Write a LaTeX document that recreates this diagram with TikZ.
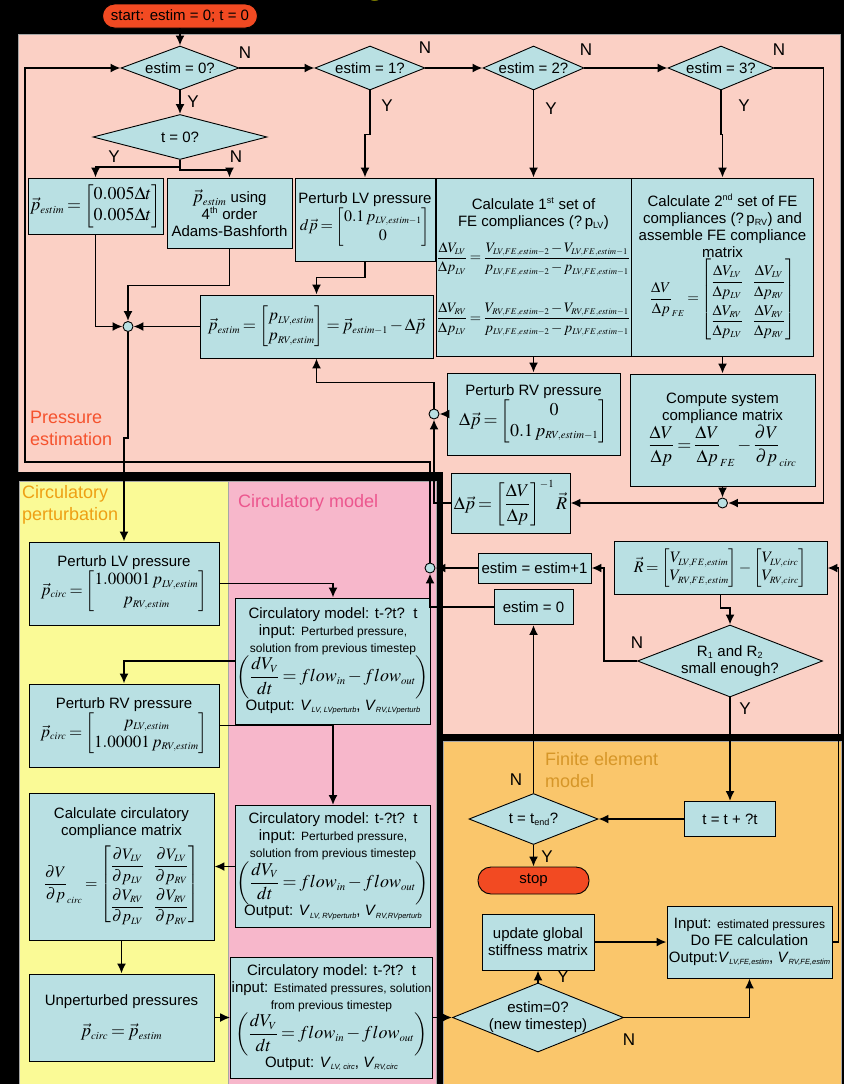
\documentclass[tikz,border=0pt]{standalone}
\usepackage{amsmath}
\usepackage{mathptmx}
\usepackage[no-math]{fontspec}
\setmainfont{Liberation Sans}
\usepackage{tikz}
\usetikzlibrary{arrows,arrows.meta,shapes}
\usetikzlibrary{positioning}
\renewcommand{\defaultscriptratio}{.6}
\thickmuskip=3mu plus 2mu
\medmuskip=2mu plus 1mu
\definecolor{boxblue}{RGB}{185,224,227}
\definecolor{termred}{RGB}{242,74,34}
\definecolor{pressbg}{RGB}{251,208,197}
\definecolor{pertbg}{RGB}{250,250,150}
\definecolor{circbg}{RGB}{247,183,203}
\definecolor{febg}{RGB}{250,198,107}
\definecolor{presstext}{RGB}{245,82,45}
\definecolor{perttext}{RGB}{238,160,20}
\definecolor{circtext}{RGB}{236,86,142}
\definecolor{fetext}{RGB}{214,150,40}
\definecolor{titleyellow}{RGB}{255,255,0}
\tikzstyle{box}=[rectangle,draw=black,line width=0.9pt,fill=boxblue,align=center,inner sep=1pt,font=\fontsize{15}{17}\selectfont]
\tikzstyle{decision}=[diamond,draw=black,line width=0.9pt,fill=boxblue,align=center,inner sep=0pt,aspect=2.5,font=\fontsize{15}{17}\selectfont]
\tikzstyle{terminal}=[rectangle,rounded corners=12pt,draw=black,line width=0.9pt,fill=termred,font=\fontsize{15}{17}\selectfont]
\tikzstyle{junction}=[circle,draw=black,line width=0.9pt,fill=boxblue,minimum size=10pt,inner sep=0pt]
\tikzstyle{edge} = [draw,line width=1.8pt,->]
\tikzstyle{yesno} = [font=\fontsize{17}{17}\selectfont]
\tikzstyle{region} = [align=left,anchor=west,inner sep=0pt,font=\fontsize{18}{22}\selectfont]
\newcommand{\eqsize}{\fontsize{18}{21}\selectfont}
\newcommand{\smalltext}{\fontsize{12}{14}\selectfont}
\newcommand{\osub}[1]{\raisebox{-2.5pt}{\fontsize{7.5}{8}\selectfont\itshape #1}}

\begin{document}
\begin{tikzpicture}[x=1pt,y=-1pt,>={Latex[length=10pt,width=9pt]}]

% coloured regions
\useasboundingbox (0,0) rectangle (844,1084);
\fill[black] (0,0) rectangle (844,1084);
\filldraw[fill=pressbg,draw=gray!70] (18,34) rectangle (840,734);
\fill[black] (14,472) rectangle (443,1084);
\fill[black] (443,734) rectangle (844,1084);
\filldraw[fill=pertbg,draw=gray!70] (19,481) rectangle (228,1090);
\filldraw[fill=circbg,draw=gray!70] (228,481) rectangle (436,1090);
\filldraw[fill=febg,draw=gray!70] (443,741) rectangle (841,1090);

\node[text=titleyellow,font=\bfseries\fontsize{40}{40}\selectfont,anchor=base,inner sep=0pt] (title) at (376,-7) {g};

\node[region,text=presstext] (lpress) at (30,428) {Pressure\\estimation};
\node[region,text=perttext] (lpert) at (22,505) {Circulatory\\perturbation};
\node[region,text=circtext] (lcirc) at (238,503) {Circulatory model};
\node[region,text=fetext] (lfe) at (545,770) {Finite element\\model};

%pressure estimation
\node[terminal,minimum width=155pt,minimum height=24pt] (start) at (180,16) {start: estim = 0; t = 0};

\foreach \pos/\name/\num/\dw in {{(180,68)/q0/0/118}, {(370,68)/q1/1/110}, {(533.5,68)/q2/2/101}, {(721,68)/q3/3/106}}
    \node[decision,minimum width=\dw pt,minimum height=44pt] (\name) at \pos {estim = \num?};

\node[decision,minimum width=174pt,minimum height=45pt] (qt) at (180,137) {t = 0?};

\node[box,minimum width=135pt,minimum height=56pt] (init) at (95.5,206)
    {{\fontsize{18}{21}\selectfont $\vec{p}_{estim}=\begin{bmatrix}0.005\Delta t\\ 0.005\Delta t\end{bmatrix}$}};
\node[box,minimum width=125pt,minimum height=70pt] (ab) at (229.5,213)
    {{\eqsize$\vec{p}_{estim}$} using\\4\textsuperscript{th} order\\Adams-Bashforth};
\node[box,minimum width=140pt,minimum height=83pt] (plv) at (365,219.5)
    {Perturb LV pressure\\{\fontsize{16}{19}\selectfont $d\vec{p}=\begin{bmatrix}0.1\,p_{LV,estim-1}\\ 0\end{bmatrix}$}};
\node[box,minimum width=192pt,minimum height=178pt] (fe1) at (533.5,267)
    {Calculate 1\textsuperscript{st} set of\\FE compliances (?\,p\textsubscript{LV})\\[12pt]
     {\fontsize{14.5}{17}\selectfont $\dfrac{\Delta V_{LV}}{\Delta p_{LV}}=\dfrac{V_{LV,FE,estim-2}-V_{LV,FE,estim-1}}{p_{LV,FE,estim-2}-p_{LV,FE,estim-1}}$}\\[26pt]
     {\fontsize{14.5}{17}\selectfont $\dfrac{\Delta V_{RV}}{\Delta p_{LV}}=\dfrac{V_{RV,FE,estim-2}-V_{RV,FE,estim-1}}{p_{LV,FE,estim-2}-p_{LV,FE,estim-1}}$}};
\node[box,minimum width=182pt,minimum height=178pt] (fe2) at (722.5,267)
    {Calculate 2\textsuperscript{nd} set of FE\\compliances (?\,p\textsubscript{RV}) and\\assemble FE compliance\\matrix\\[0pt]
     {\fontsize{15}{17}\selectfont\renewcommand{\arraystretch}{2.2}${\dfrac{\Delta V}{\Delta p}}_{FE}=\begin{bmatrix}\dfrac{\Delta V_{LV}}{\Delta p_{LV}} & \dfrac{\Delta V_{LV}}{\Delta p_{RV}}\\ \dfrac{\Delta V_{RV}}{\Delta p_{LV}} & \dfrac{\Delta V_{RV}}{\Delta p_{RV}}\end{bmatrix}$}};
\node[box,minimum width=233pt,minimum height=63pt] (pest) at (316.5,326.5)
    {{\fontsize{17}{20}\selectfont $\vec{p}_{estim}=\begin{bmatrix}p_{LV,estim}\\ p_{RV,estim}\end{bmatrix}=\vec{p}_{estim-1}-\Delta\vec{p}$}};
\node[box,minimum width=173pt,minimum height=82pt] (prv) at (533.5,414)
    {Perturb RV pressure\\{\eqsize $\Delta\vec{p}=\begin{bmatrix}0\\ 0.1\,p_{RV,estim-1}\end{bmatrix}$}};
\node[box,minimum width=185pt,minimum height=112pt] (sys) at (722.5,430)
    {Compute system\\compliance matrix\\
     {\eqsize $\dfrac{\Delta V}{\Delta p}={\dfrac{\Delta V}{\Delta p}}_{FE}-{\dfrac{\partial V}{\partial p}}_{circ}$}};
\node[box,minimum width=119pt,minimum height=60pt] (dp) at (510.5,503)
    {{\eqsize $\Delta\vec{p}=\begin{bmatrix}\dfrac{\Delta V}{\Delta p}\end{bmatrix}^{-1}\vec{R}$}};
\node[box,minimum width=113pt,minimum height=30pt] (inc) at (534.5,568) {estim = estim+1};
\node[box,minimum width=79pt,minimum height=35pt] (zero) at (533.5,607) {estim = 0};
\node[box,minimum width=213pt,minimum height=53pt] (res) at (720.5,568)
    {{\fontsize{16}{18}\selectfont $\vec{R}=\begin{bmatrix}V_{LV,FE,estim}\\ V_{RV,FE,estim}\end{bmatrix}-\begin{bmatrix}V_{LV,circ}\\ V_{RV,circ}\end{bmatrix}$}};
\node[decision,inner sep=-6pt,minimum width=185pt,minimum height=72pt] (conv) at (730,661)
    {R\textsubscript{1} and R\textsubscript{2}\\small enough?};

\foreach \pos/\name in {{(128,326.5)/j1}, {(434,414)/j2}, {(722.5,503)/j3}, {(430,568)/j4}}
    \node[junction] (\name) at \pos {};

%circulatory perturbation and model
\node[box,minimum width=190pt,minimum height=83pt] (cplv) at (124,583.5)
    {Perturb LV pressure\\{\fontsize{17}{20}\selectfont $\vec{p}_{circ}=\begin{bmatrix}1.00001\,p_{LV,estim}\\ p_{RV,estim}\end{bmatrix}$}};
\node[box,minimum width=190pt,minimum height=83pt] (cprv) at (124,725.5)
    {Perturb RV pressure\\{\fontsize{17}{20}\selectfont $\vec{p}_{circ}=\begin{bmatrix}p_{LV,estim}\\ 1.00001\,p_{RV,estim}\end{bmatrix}$}};
\node[box,minimum width=185pt,minimum height=147pt] (ccomp) at (121.5,866.5)
    {Calculate circulatory\\compliance matrix\\[4pt]
     {\fontsize{16}{18}\selectfont\renewcommand{\arraystretch}{2.1}${\dfrac{\partial V}{\partial p}}_{circ}=\begin{bmatrix}\dfrac{\partial V_{LV}}{\partial p_{LV}} & \dfrac{\partial V_{LV}}{\partial p_{RV}}\\ \dfrac{\partial V_{RV}}{\partial p_{LV}} & \dfrac{\partial V_{RV}}{\partial p_{RV}}\end{bmatrix}$}};
\node[box,minimum width=185pt,minimum height=87pt] (cunp) at (121.5,1017.5)
    {Unperturbed pressures\\[14pt]{\eqsize $\vec{p}_{circ}=\vec{p}_{estim}$}};

\node[box,minimum width=190pt,minimum height=126pt] (m1) at (333,661)
    {Circulatory model: t-?t?~~t\\input: {\smalltext Perturbed pressure,}\\{\smalltext solution from previous timestep}\\
     {\eqsize $\left(\dfrac{dV_V}{dt}=flow_{in}-flow_{out}\right)$}\\
     Output: \textit{V}\osub{LV, LVperturb}, \textit{V}\osub{RV,LVperturb}};
\node[box,minimum width=190pt,minimum height=122pt] (m2) at (333,866.5)
    {Circulatory model: t-?t?~~t\\input: {\smalltext Perturbed pressure,}\\{\smalltext solution from previous timestep}\\
     {\eqsize $\left(\dfrac{dV_V}{dt}=flow_{in}-flow_{out}\right)$}\\
     Output: \textit{V}\osub{LV, RVperturb}, \textit{V}\osub{RV,RVperturb}};
\node[box,minimum width=199pt,minimum height=121pt] (m3) at (331.5,1017.5)
    {Circulatory model: t-?t?~~t\\input: {\smalltext Estimated pressures, solution}\\{\smalltext from previous timestep}\\
     {\eqsize $\left(\dfrac{dV_V}{dt}=flow_{in}-flow_{out}\right)$}\\
     Output: \textit{V}\osub{LV, circ}, \textit{V}\osub{RV,circ}};

%finite element model
\node[box,minimum width=91pt,minimum height=35pt] (tinc) at (730,819) {t = t + ?t};
\node[decision,minimum width=129pt,minimum height=51pt] (tend) at (533.5,819) {t = t\textsubscript{end}?};
\node[terminal,minimum width=111pt,minimum height=27pt,rounded corners=13pt] (stop) at (533.5,880.5) {stop};
\node[box,minimum width=112pt,minimum height=56pt] (upd) at (538,942) {update global\\stiffness matrix};
\node[decision,inner sep=-6pt,minimum width=171pt,minimum height=69pt] (newts) at (538,1017.5) {estim=0?\\(new timestep)};
\node[box,minimum width=165pt,minimum height=72pt] (fecalc) at (749.5,942)
    {Input: {\smalltext estimated pressures}\\Do FE calculation\\Output:\textit{V}\osub{LV,FE,estim}, \textit{V}\osub{RV,FE,estim}};

% Connect the boxes
\foreach \source/\dest in {start/q0, q0/q1, q1/q2, q2/q3, q0/qt, q2/fe1, pest/j1, fe1/prv, fe2/sys, prv/j2, sys/j3, j3/dp, inc/j4,
    conv/tinc, tinc/tend, tend/zero, tend/stop, newts/upd, upd/fecalc, m2/ccomp, ccomp/cunp, cunp/m3, m3/newts}
    \path[edge] (\source) -- (\dest);

\path[edge] (q3.east) -- ++(49,0) |- (j3.east);
\path[edge] (qt.south) -- ++(0,7) -| (init.north);
\path[edge] (qt.south) -- ++(0,10) -| (ab.north);
\path[edge] (q1.south) -- ++(0,44) -| (plv.north);
\path[edge] (q3.south) -- ++(0,44) -| (fe2.north);
\path[edge] (init.south) |- (j1.west);
\path[edge] (ab.south) -- ++(0,37) -| (j1.north);
\path[edge] (plv.south) -- ++(0,16) -| (pest.north);
\path[edge] (j1.south) -- ++(0,106) -| (cplv.north);
\path[edge] (dp.west) -| (j2.south);
\path[edge] (j2.north) -- ++(0,-26) -| (pest.south);
\path[edge] (zero.west) -| (j4.south);
\path[edge] (j4.north) |- (25,462) |- (q0.west);
\path[edge] (res.south) -- ++(0,13) -| (conv.north);
\path[edge] (conv.west) -- ++(-33,0) |- (inc.east);
\path[edge] (fecalc.east) -- ++(6,0) |- (res.east);
\path[edge] (newts.east) -| (fecalc.south);
\path[edge] (cplv.east) -| (m1.north);
\path[edge] (m1.west) -| (cprv.north);
\path[edge] (cprv.east) -| (m2.north);

% yes / no
\foreach \pos/\name/\label in {{(245,53)/n0/N}, {(425,48)/n1/N}, {(586,50)/n2/N}, {(779,50)/n3/N}, {(236,157)/nt/N},
    {(637,643)/nc/N}, {(516,780)/ne/N}, {(629,1040)/nn/N}}
    \node[yesno] (\name) at \pos {\label};
\foreach \pos/\name/\label in {{(193,102)/y0/Y}, {(387,106)/y1/Y}, {(551,109)/y2/Y}, {(744,106)/y3/Y}, {(114,157)/yt/Y},
    {(745,709)/yc/Y}, {(547,857)/ye/Y}, {(563,977)/yn/Y}}
    \node[yesno] (\name) at \pos {\label};

\end{tikzpicture}
\end{document}
